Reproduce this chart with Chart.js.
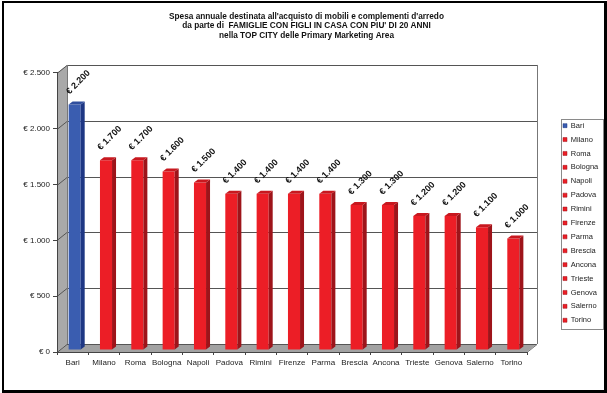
<!DOCTYPE html>
<html>
<head>
<meta charset="utf-8">
<script src="https://cdn.jsdelivr.net/npm/chart.js@4.4.1/dist/chart.umd.min.js"></script>
<style>
  html, body { margin: 0; padding: 0; background: #fff; }
  #wrap { width: 607px; height: 393px; }
</style>
</head>
<body>
<div id="wrap"><canvas id="spesaChart" width="607" height="393"></canvas></div>
<script>
// dati: spesa annua per mobili e complementi d'arredo
const citta = ['Bari', 'Milano', 'Roma', 'Bologna', 'Napoli', 'Padova', 'Rimini', 'Firenze',
  'Parma', 'Brescia', 'Ancona', 'Trieste', 'Genova', 'Salerno', 'Torino'];
const spesa = [2200, 1700, 1700, 1600, 1500, 1400, 1400, 1400, 1400, 1300, 1300, 1200, 1200, 1100, 1000];
const tickValori = [0, 500, 1000, 1500, 2000, 2500];
const titolo = [
  "Spesa annuale destinata all'acquisto di mobili e complementi d'arredo",
  "da parte di  FAMIGLIE CON FIGLI IN CASA CON PIU' DI 20 ANNI",
  'nella TOP CITY delle Primary Marketing Area'
];

const FONT = "'Liberation Sans', Arial, sans-serif";

// colori: prima barra blu, le altre rosse (fronte, lato, sopra)
const fronte = citta.map((c, i) => i === 0 ? '#3A5DB0' : '#EC1E26');
const lato = citta.map((c, i) => i === 0 ? '#1E3784' : '#9E141A');
const sopra = citta.map((c, i) => i === 0 ? '#2F4E9E' : '#C8181F');

// formato euro con separatore delle migliaia
function euro(v) {
  return '€ ' + String(v).replace(/\B(?=(\d{3})+(?!\d))/g, '.');
}

// profondità pareti e barre
const PARETE = { dx: 10, dy: -8 };
const BARRA = { dx: 4, dy: -3, sx: 2, sy: -2 };

const scena3d = {
  id: 'scena3d',
  beforeDraw(chart) {
    const ctx = chart.ctx;
    const { left: L, right: R, top: T, bottom: B } = chart.chartArea;
    const yScale = chart.scales.y;
    ctx.save();
    ctx.fillStyle = '#fff';
    ctx.fillRect(0, 0, chart.width, chart.height);

    // cornice
    ctx.fillStyle = '#000';
    ctx.fillRect(2, 1, 603, 2);
    ctx.fillRect(2, 1, 2, 391);
    ctx.fillRect(604, 1, 3, 392);
    ctx.fillRect(2, 390, 605, 3);

    const dx = PARETE.dx, dy = PARETE.dy;
    // parete di fondo
    ctx.fillStyle = '#fff';
    ctx.fillRect(L + dx, T + dy, R - L, B - T);

    // parete sinistra e pavimento
    ctx.fillStyle = '#A9A9A9';
    ctx.beginPath();
    ctx.moveTo(L, T); ctx.lineTo(L + dx, T + dy); ctx.lineTo(L + dx, B + dy); ctx.lineTo(L, B);
    ctx.closePath(); ctx.fill();
    ctx.fillStyle = '#A2A2A2';
    ctx.beginPath();
    ctx.moveTo(L, B); ctx.lineTo(L + dx, B + dy); ctx.lineTo(R + dx, B + dy); ctx.lineTo(R, B);
    ctx.closePath(); ctx.fill();

    // griglia sulle pareti
    ctx.lineWidth = 1;
    ctx.strokeStyle = '#555';
    tickValori.forEach(v => {
      const y = Math.round(yScale.getPixelForValue(v)) + 0.5;
      ctx.beginPath();
      ctx.moveTo(L, y);
      ctx.lineTo(L + dx, y + dy);
      ctx.lineTo(R + dx, y + dy);
      ctx.stroke();
    });

    // bordi delle pareti
    ctx.strokeStyle = '#777';
    ctx.beginPath();
    ctx.moveTo(L + dx + 0.5, T + dy); ctx.lineTo(L + dx + 0.5, B + dy);
    ctx.moveTo(R + dx + 0.5, T + dy); ctx.lineTo(R + dx + 0.5, B + dy);
    ctx.moveTo(R, B + 0.5); ctx.lineTo(R + dx, B + dy + 0.5);
    ctx.stroke();
    ctx.restore();
  },
  beforeDatasetsDraw(chart) {
    chart.ctx.save();
    chart.ctx.translate(BARRA.sx, BARRA.sy);
  },
  afterDatasetsDraw(chart) {
    const ctx = chart.ctx;
    ctx.restore();
    const meta = chart.getDatasetMeta(0);
    ctx.save();
    meta.data.forEach((bar, i) => {
      const { x, y, base, width } = bar.getProps(['x', 'y', 'base', 'width'], true);
      const l = x - width / 2 + BARRA.sx;
      const r = x + width / 2 + BARRA.sx;
      const t = y + BARRA.sy;
      const b = base + BARRA.sy;
      // lato destro
      ctx.fillStyle = lato[i];
      ctx.beginPath();
      ctx.moveTo(r, t); ctx.lineTo(r + BARRA.dx, t + BARRA.dy);
      ctx.lineTo(r + BARRA.dx, b + BARRA.dy); ctx.lineTo(r, b);
      ctx.closePath(); ctx.fill();
      // faccia superiore
      ctx.fillStyle = sopra[i];
      ctx.beginPath();
      ctx.moveTo(l, t); ctx.lineTo(l + BARRA.dx, t + BARRA.dy);
      ctx.lineTo(r + BARRA.dx, t + BARRA.dy); ctx.lineTo(r, t);
      ctx.closePath(); ctx.fill();

      // etichetta del valore, ruotata
      ctx.save();
      ctx.translate(l - 1, t - 11.5);
      ctx.rotate(-Math.PI / 4);
      ctx.font = 'bold 9px ' + FONT;
      ctx.fillStyle = '#111';
      ctx.textAlign = 'left';
      ctx.textBaseline = 'middle';
      ctx.fillText(euro(spesa[i]), 0, 0);
      ctx.restore();
    });
    ctx.restore();
  },
  afterLayout(chart) {
    // titolo centrato sull'intera cornice
    const tb = chart.titleBlock;
    if (tb) { tb.left += 43; tb.right += 43; }
    // legenda a destra del grafico
    const lg = chart.legend;
    const w = lg.width, h = lg.height;
    lg.left = 556.6; lg.right = 556.6 + w;
    lg.top = 115.5; lg.bottom = 115.5 + h;
  },
  afterDraw(chart) {
    const hb = chart.legend.legendHitBoxes;
    if (!hb || !hb.length) return;
    const ctx = chart.ctx;
    const top = hb[0].top - 3;
    const bottom = hb[hb.length - 1].top + hb[hb.length - 1].height + 5;
    const left = hb[0].left - 2;
    ctx.save();
    ctx.strokeStyle = '#8A8A8A';
    ctx.lineWidth = 1;
    ctx.strokeRect(Math.round(left) + 0.5, Math.round(top) + 0.5, 603 - Math.round(left), Math.round(bottom - top));
    ctx.restore();
  }
};

new Chart(document.getElementById('spesaChart'), {
  type: 'bar',
  data: {
    labels: citta,
    datasets: [{
      data: spesa,
      backgroundColor: fronte,
      borderWidth: 0,
      categoryPercentage: 1,
      barPercentage: 0.385
    }]
  },
  options: {
    responsive: false,
    animation: false,
    devicePixelRatio: 1,
    layout: { padding: { left: 0, right: 80, top: 0, bottom: 0 } },
    scales: {
      x: {
        grid: { drawOnChartArea: false, drawTicks: true, tickLength: 3, color: '#444', offset: true },
        border: { color: '#444' },
        ticks: { font: { family: FONT, size: 8 }, color: '#222', padding: 3, maxRotation: 0, autoSkip: false },
        afterFit(s) { s.height = 41; }
      },
      y: {
        min: 0,
        max: 2500,
        afterBuildTicks(s) { s.ticks = tickValori.map(v => ({ value: v })); },
        grid: { drawOnChartArea: false, drawTicks: true, tickLength: 4, color: '#444' },
        border: { color: '#444' },
        ticks: { font: { family: FONT, size: 8 }, color: '#222', padding: 3, callback: v => euro(v) },
        afterFit(s) { s.width = 57; }
      }
    },
    plugins: {
      title: {
        display: true,
        text: titolo,
        color: '#111',
        font: { family: FONT, size: 8.25, weight: 'bold', lineHeight: 1.15 },
        padding: { top: 11.5, bottom: 33 }
      },
      legend: {
        position: 'chartArea',
        align: 'start',
        labels: {
          boxWidth: 4,
          boxHeight: 4,
          padding: 6.4,
          color: '#222',
          font: { family: FONT, size: 7.5 },
          generateLabels: () => citta.map((c, i) => ({
            text: c,
            fillStyle: fronte[i],
            strokeStyle: lato[i],
            lineWidth: 0.5,
            fontColor: '#222',
            hidden: false,
            index: i
          }))
        }
      },
      tooltip: { enabled: false }
    }
  },
  plugins: [scena3d]
});
</script>
</body>
</html>
